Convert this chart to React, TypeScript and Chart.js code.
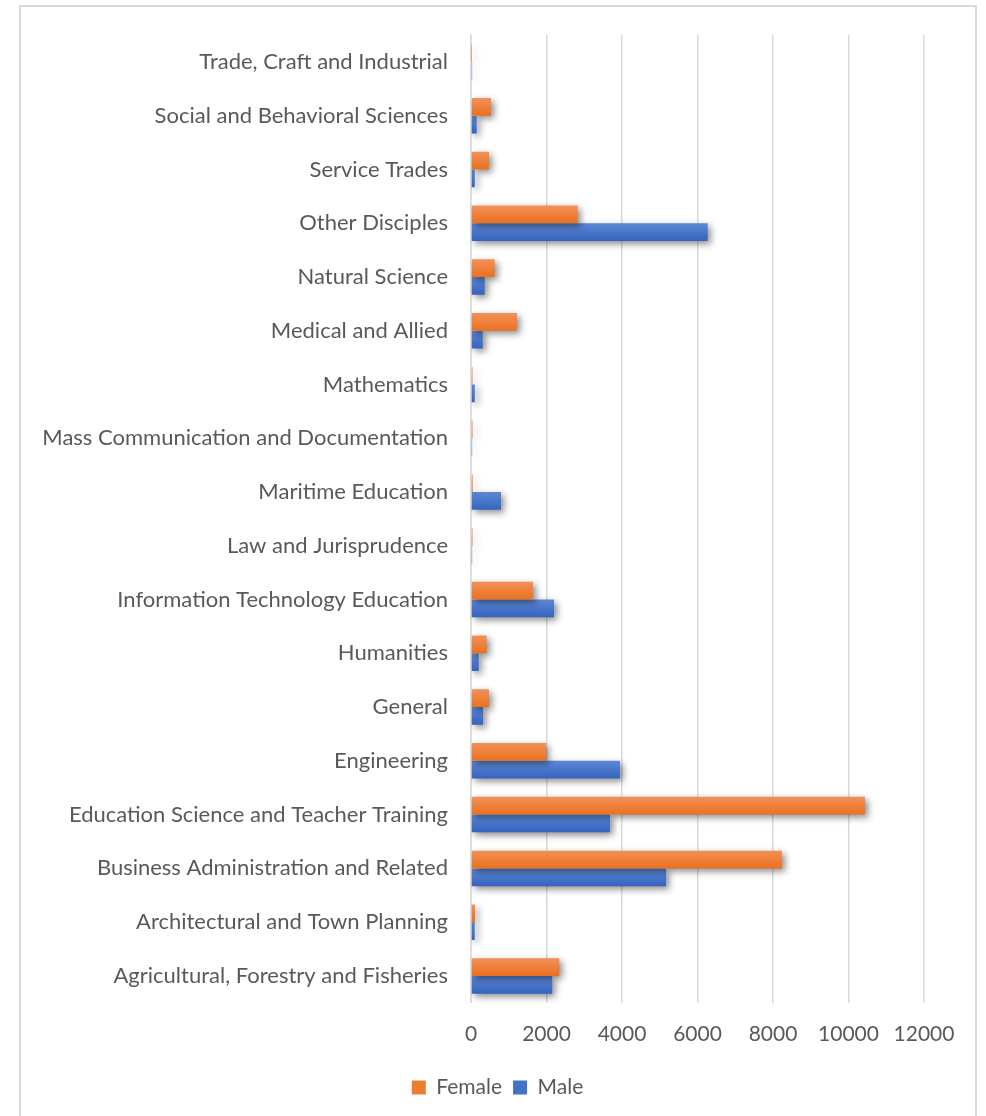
import React, { useEffect, useRef } from "react";
import { Chart, registerables } from "chart.js";

Chart.register(...registerables);

const categories = [
  "Trade, Craft and Industrial",
  "Social and Behavioral Sciences",
  "Service Trades",
  "Other Disciples",
  "Natural Science",
  "Medical and Allied",
  "Mathematics",
  "Mass Communication and Documentation",
  "Maritime Education",
  "Law and Jurisprudence",
  "Information Technology Education",
  "Humanities",
  "General",
  "Engineering",
  "Education Science and Teacher Training",
  "Business Administration and Related",
  "Architectural and Town Planning",
  "Agricultural, Forestry and Fisheries",
];

const femaleValues = [5, 530, 477, 2826, 627, 1218, 40, 40, 45, 40, 1642, 415, 477, 1987, 10437, 8238, 106, 2338];
const maleValues = [30, 150, 100, 6270, 362, 310, 100, 30, 795, 30, 2199, 205, 318, 3947, 3682, 5166, 98, 2150];

const xTicks = { min: 0, max: 12000, step: 2000 };

const FONT = "Lato, 'Open Sans', sans-serif";
const TEXT = "#595959";
const CAT_PCT = 0.66;

const femaleColors = ["#F39058", "#E9711F"];
const maleColors = ["#5D88D6", "#3563BD"];

function barGradient(colors: string[], offsetSign: number, fallback: string) {
  return (c: any) => {
    const chart = c.chart;
    const ys = chart.scales && chart.scales.y;
    if (!chart.chartArea || !ys || c.dataIndex === undefined) return fallback;
    const center = ys.getPixelForValue(c.dataIndex);
    const thick = (ys.height / categories.length) * CAT_PCT / 2;
    const top = offsetSign < 0 ? center - thick : center;
    const g = chart.ctx.createLinearGradient(0, top, 0, top + thick);
    g.addColorStop(0, colors[0]);
    g.addColorStop(1, colors[1]);
    return g;
  };
}

const shadowPlugin = {
  id: "barShadow",
  beforeDatasetsDraw(chart: any) {
    const ctx = chart.ctx;
    ctx.save();
    ctx.shadowColor = "rgba(0,0,0,0.45)";
    ctx.shadowBlur = 7;
    ctx.shadowOffsetX = 3;
    ctx.shadowOffsetY = 3;
  },
  afterDatasetsDraw(chart: any) {
    chart.ctx.restore();
  },
};

const legendShiftPlugin = {
  id: "legendShift",
  afterLayout(chart: any) {
    const l = chart.legend;
    if (l) {
      l.left += 25;
      l.right += 25;
    }
  },
};

export default function App() {
  const ref = useRef<HTMLCanvasElement | null>(null);

  useEffect(() => {
    if (!ref.current) return;
    const chart = new Chart(ref.current, {
      type: "bar",
      data: {
        labels: categories,
        datasets: [
          {
            label: "Female",
            data: femaleValues,
            backgroundColor: barGradient(femaleColors, -1, "#ED7D31"),
            borderWidth: 0,
            categoryPercentage: CAT_PCT,
            barPercentage: 1,
          },
          {
            label: "Male",
            data: maleValues,
            backgroundColor: barGradient(maleColors, 1, "#4472C4"),
            borderWidth: 0,
            categoryPercentage: CAT_PCT,
            barPercentage: 1,
          },
        ],
      },
      options: {
        indexAxis: "y",
        animation: false,
        responsive: false,
        maintainAspectRatio: false,
        layout: { padding: { top: 28, right: 51, bottom: 8, left: 0 } },
        plugins: {
          tooltip: { enabled: false },
          legend: {
            position: "bottom",
            labels: {
              boxWidth: 14,
              boxHeight: 14,
              color: TEXT,
              font: { family: FONT, size: 21 },
              padding: 11,
              generateLabels: (chart: any) =>
                chart.data.datasets.map((ds: any, i: number) => ({
                  text: ds.label,
                  fillStyle: i === 0 ? "#ED7D31" : "#4472C4",
                  strokeStyle: "transparent",
                  lineWidth: 0,
                  fontColor: TEXT,
                  hidden: false,
                  datasetIndex: i,
                })),
            },
          },
        },
        scales: {
          x: {
            min: xTicks.min,
            max: xTicks.max,
            ticks: {
              stepSize: xTicks.step,
              color: TEXT,
              font: { family: FONT, size: 21 },
              padding: 19,
              callback: (v: any) => String(v),
            },
            grid: { color: "#d9d9d9", lineWidth: 1.5, drawTicks: false },
            border: { display: false },
          },
          y: {
            ticks: {
              color: TEXT,
              font: { family: FONT, size: 22 },
              padding: 23,
            },
            grid: { display: false, drawTicks: false },
            border: { display: true, color: "#d9d9d9", width: 1.5 },
            afterFit(scale: any) {
              scale.width = 450;
              scale.paddingTop = 0;
              scale.paddingBottom = 0;
            },
          },
        },
      },
      plugins: [shadowPlugin, legendShiftPlugin],
    });
    return () => chart.destroy();
  }, []);

  return (
    <div style={{ position: "fixed", left: 0, top: 0, width: 986, height: 1116, overflow: "hidden", background: "#fff" }}>
      <div
        style={{
          position: "absolute",
          left: 19,
          top: 5,
          width: 958,
          height: 1130,
          border: "2px solid #d9d9d9",
          boxSizing: "border-box",
        }}
      >
        <canvas ref={ref} width={954} height={1109} style={{ display: "block" }} />
      </div>
    </div>
  );
}
